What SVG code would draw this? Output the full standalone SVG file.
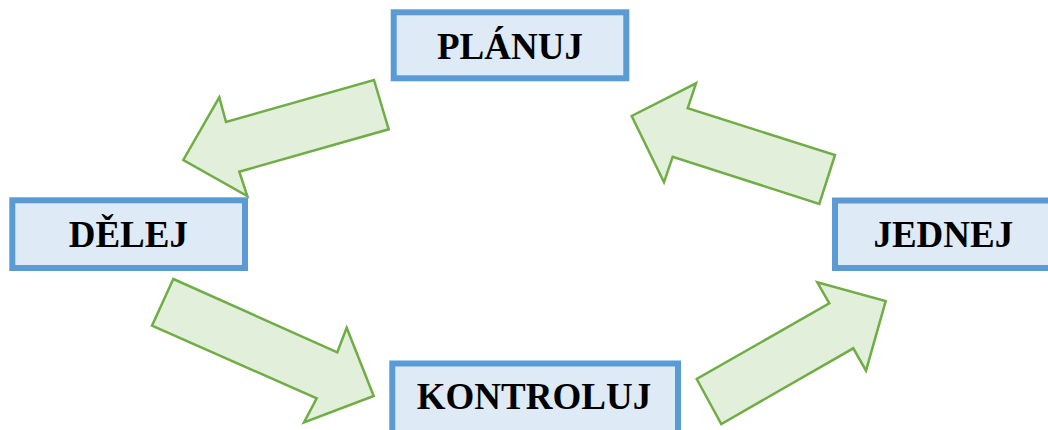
<svg xmlns="http://www.w3.org/2000/svg" width="1048" height="430" viewBox="0 0 1048 430">
<style>
.box{fill:#DEEAF6;stroke:#5B9BD5;stroke-width:6}
.lbl{font-family:"Liberation Serif","Times New Roman",serif;font-weight:bold;font-size:37px;fill:#000;text-anchor:middle}
.arr{fill:#E2EFDA;stroke:#70AD47;stroke-width:2.5;stroke-linejoin:miter}
</style>
<rect width="1048" height="430" fill="#fff"/>
<g id="connectors">
<polygon class="arr" points="374,80 388.7,129.3 239.3,171.7 247.3,196 183.3,160 219.3,97.3 226,122"/>
<polygon class="arr" points="835,155 819.3,204 672.7,156.7 664,182.3 631.7,116 696,83.3 687.7,108.3"/>
<polygon class="arr" points="173.3,279 152,325.7 316.7,398.3 304,422.3 373.7,396 346.7,327.7 337.3,352.3"/>
<polygon class="arr" points="696.7,379 721.3,424 853.3,348.3 866,370.7 885.7,301 817.3,282.3 829.3,303.3"/>
</g>
<g id="planuj">
<rect class="box" x="393.7" y="12.3" width="232.6" height="66"/>
<text class="lbl" x="510" y="59">PLÁNUJ</text>
</g>
<g id="delej">
<rect class="box" x="12.3" y="200.3" width="232.7" height="67.7"/>
<text class="lbl" x="128.3" y="247">DĚLEJ</text>
</g>
<g id="jednej">
<rect class="box" x="835" y="200.5" width="230" height="67.5"/>
<text class="lbl" x="943.3" y="246.5">JEDNEJ</text>
</g>
<g id="kontroluj">
<rect class="box" x="392.3" y="363.5" width="285.7" height="80"/>
<text class="lbl" x="534" y="409">KONTROLUJ</text>
</g>
</svg>
